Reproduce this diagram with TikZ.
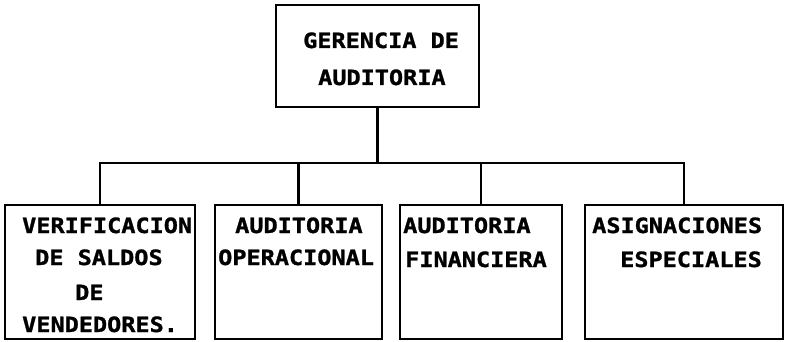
\documentclass[tikz,border=0pt]{standalone}
\usepackage{fontspec}
\newfontfamily\dotfont[FakeStretch=1.12,FakeBold=1.2]{DejaVu Sans Mono}
\tikzset{
  box/.style={draw=black, line width=2.2pt, rectangle, inner sep=0pt, minimum width=#1},
  lbl/.style={anchor=base west, inner sep=0pt, font=\dotfont\bfseries\fontsize{21}{21}\selectfont},
  conn/.style={draw=black, line width=2.4pt}
}
\begin{document}
\begin{tikzpicture}[x=1pt,y=-1pt]
\useasboundingbox (0,0) rectangle (790,342);
% boxes
\node[box=203pt, minimum height=102pt] (top) at (377.5,56) {};
\node[box=190pt, minimum height=134pt] (b1) at (100,272) {};
\node[box=167pt, minimum height=134pt] (b2) at (298.5,272) {};
\node[box=162pt, minimum height=134pt] (b3) at (481,272) {};
\node[box=198pt, minimum height=134pt] (b4) at (684,272) {};
% bus
\coordinate (bus) at (377.5,163);
\draw[conn] (top.south) -- (top.south |- bus);
\draw[conn] (b1.north) -- (b1.north |- bus) -- (b4.north |- bus) -- (b4.north);
\draw[conn] (b2.north) -- (b2.north |- bus);
\draw[conn] (b3.north) -- (b3.north |- bus);
% texts
\node[lbl] (t1) at (303,48) {GERENCIA DE};
\node[lbl] (t2) at (318,85) {AUDITORIA};
\node[lbl] (a1) at (22,233) {VERIFICACION};
\node[lbl] (a2) at (35,265) {DE SALDOS};
\node[lbl] (a3) at (75,300) {DE};
\node[lbl] (a4) at (22,332) {VENDEDORES.};
\node[lbl] (c1) at (235,233) {AUDITORIA};
\node[lbl] (c2) at (218,265) {OPERACIONAL};
\node[lbl] (d1) at (403,233) {AUDITORIA};
\node[lbl] (d2) at (405,267) {FINANCIERA};
\node[lbl] (e1) at (592,233) {ASIGNACIONES};
\node[lbl] (e2) at (620,267) {ESPECIALES};
\end{tikzpicture}
\end{document}
